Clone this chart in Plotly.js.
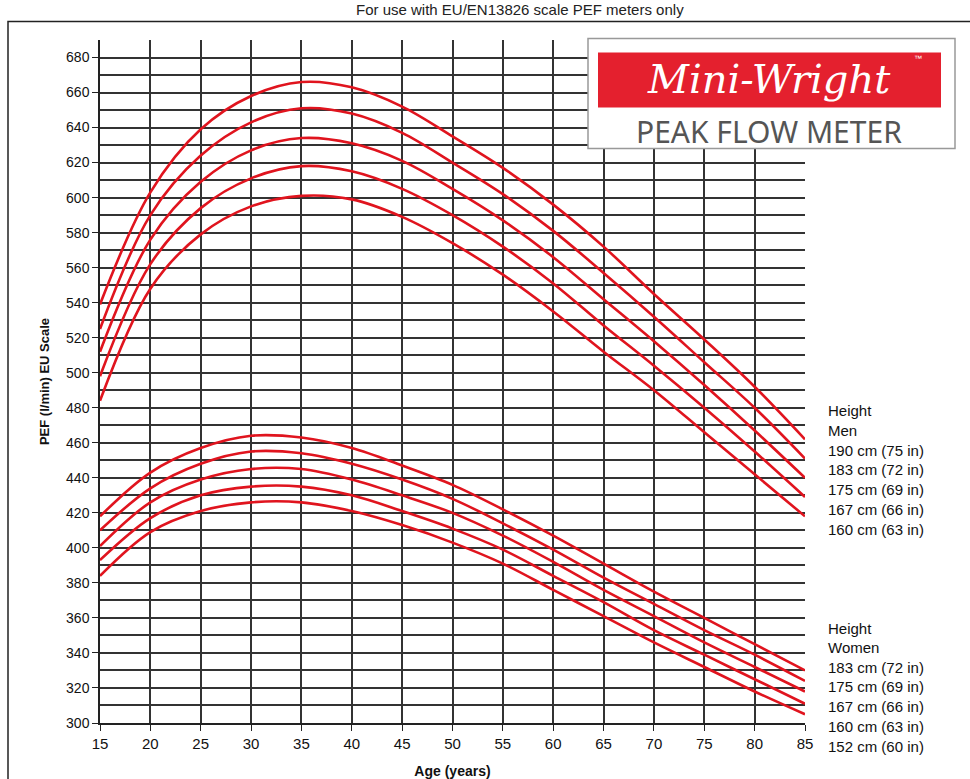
<!DOCTYPE html>
<html>
<head>
<meta charset="utf-8">
<script src="https://cdn.plot.ly/plotly-3.0.1.min.js"></script>
<style>body{margin:0;background:#fff}#chart{width:970px;height:779px}</style>
</head>
<body>
<div id="chart"></div>
<script>
var ages = [15, 20, 25, 30, 35, 40, 45, 50, 55, 60, 65, 70, 75, 80, 85];

// men, PEF (l/min) by height
var men190 = [539, 603, 639, 658, 666, 663, 652, 635, 617, 596, 572, 545, 519, 492, 462];
var men183 = [525, 590, 624, 643, 651, 648, 637, 620, 602, 581, 557, 532, 506, 480, 451];
var men175 = [512, 576, 609, 627, 634, 631, 621, 605, 587, 566, 542, 518, 493, 467, 440];
var men167 = [498, 562, 594, 611, 618, 615, 605, 590, 572, 551, 527, 504, 480, 455, 429];
var men160 = [484, 548, 579, 595, 601, 599, 589, 574, 556, 535, 512, 490, 466, 442, 418];

// women
var women183 = [418, 443, 457, 464, 463, 457, 447, 436, 422, 407, 391, 375, 360, 345, 330];
var women175 = [410, 434, 448, 455, 454, 448, 439, 428, 414, 399, 383, 368, 353, 339, 324];
var women167 = [401, 426, 439, 445, 445, 439, 430, 420, 407, 392, 376, 361, 346, 332, 318];
var women160 = [393, 417, 430, 435, 435, 430, 421, 411, 399, 384, 369, 353, 339, 325, 311];
var women152 = [384, 409, 421, 426, 426, 421, 413, 403, 391, 376, 361, 346, 332, 318, 305];

var menLabels = ["190 cm (75 in)", "183 cm (72 in)", "175 cm (69 in)", "167 cm (66 in)", "160 cm (63 in)"];
var womenLabels = ["183 cm (72 in)", "175 cm (69 in)", "167 cm (66 in)", "160 cm (63 in)", "152 cm (60 in)"];

var allSeries = [men190, men183, men175, men167, men160, women183, women175, women167, women160, women152];

var data = [];
allSeries.forEach((s) => {
  data.push({
    x: ages, y: s, type: 'scatter', mode: 'lines',
    line: {color: '#e0141e', width: 2.6, shape: 'spline', smoothing: 1},
    hoverinfo: 'skip'
  });
});

// plot area in pixels: left 100, right 805, top 39.5, bottom 723
function px(x){ return (x - 100) / 705; }
function py(y){ return (723 - y) / 683.5; }

var annotations = [];
function note(text, x, y, opts){
  var a = {text: text, x: px(x), y: py(y), xref: 'paper', yref: 'paper', showarrow: false,
    xanchor: 'left', yanchor: 'middle', font: {family: 'Liberation Sans', size: 15, color: '#111'}};
  Object.assign(a, opts || {});
  annotations.push(a);
}

note('For use with EU/EN13826 scale PEF meters only', 520, 9, {xanchor: 'center', font: {family: 'Liberation Sans', size: 15, color: '#222'}});
note('Height', 826, 410);
note('Men', 826, 430);
menLabels.forEach((t, i) => note(t, 826, 450 + i * 19.8));
note('Height', 826, 628);
note('Women', 826, 647);
womenLabels.forEach((t, i) => note(t, 826, 667 + i * 19.8));

// logo
note('<i>Mini-Wright</i>', 769, 79, {xanchor: 'center', font: {family: 'DejaVu Serif', size: 40, color: '#fff'}});
note('™', 918, 58, {xanchor: 'center', font: {family: 'Liberation Sans', size: 8, color: '#fff'}});
note('PEAK FLOW METER', 769, 131, {xanchor: 'center', font: {family: 'Noto Sans', size: 30, color: '#555'}});

var shapes = [
  {type: 'rect', xref: 'paper', yref: 'paper', x0: px(8), x1: px(985), y0: py(21), y1: py(800),
    line: {color: '#222', width: 1.5}, fillcolor: 'rgba(0,0,0,0)'},
  {type: 'rect', xref: 'paper', yref: 'paper', x0: px(588), x1: px(955), y0: py(38), y1: py(148),
    line: {color: '#999', width: 1.5}, fillcolor: '#fff', layer: 'above'},
  {type: 'rect', xref: 'paper', yref: 'paper', x0: px(598), x1: px(941), y0: py(52), y1: py(107),
    line: {width: 0}, fillcolor: '#e4202e', layer: 'above'}
];

var layout = {
  width: 970, height: 779,
  margin: {l: 100, r: 165, t: 39.5, b: 56},
  showlegend: false,
  paper_bgcolor: '#fff', plot_bgcolor: '#fff',
  font: {family: 'Liberation Sans', size: 14, color: '#111'},
  xaxis: {
    range: [15, 85], dtick: 5, tick0: 15, ticks: 'outside', ticklen: 6, tickcolor: '#222',
    showgrid: true, gridcolor: '#333', gridwidth: 1.5, zeroline: false,
    showline: true, linecolor: '#222', linewidth: 1.5,
    title: {text: '<b>Age (years)</b>', font: {size: 14}, standoff: 18},
    tickfont: {size: 15}
  },
  yaxis: {
    range: [300, 690], dtick: 20, tick0: 300, ticks: 'outside', ticklen: 6, tickcolor: '#222',
    showgrid: true, gridcolor: '#333', gridwidth: 1.5, zeroline: false,
    showline: true, linecolor: '#222', linewidth: 1.5,
    minor: {dtick: 10, showgrid: true, gridcolor: '#333', gridwidth: 1.5},
    title: {text: '<b>PEF (l/min) EU Scale</b>', font: {size: 13}, standoff: 14},
    tickfont: {size: 14}
  },
  annotations: annotations,
  shapes: shapes
};

Plotly.newPlot('chart', data, layout, {displayModeBar: false});
</script>
</body>
</html>
